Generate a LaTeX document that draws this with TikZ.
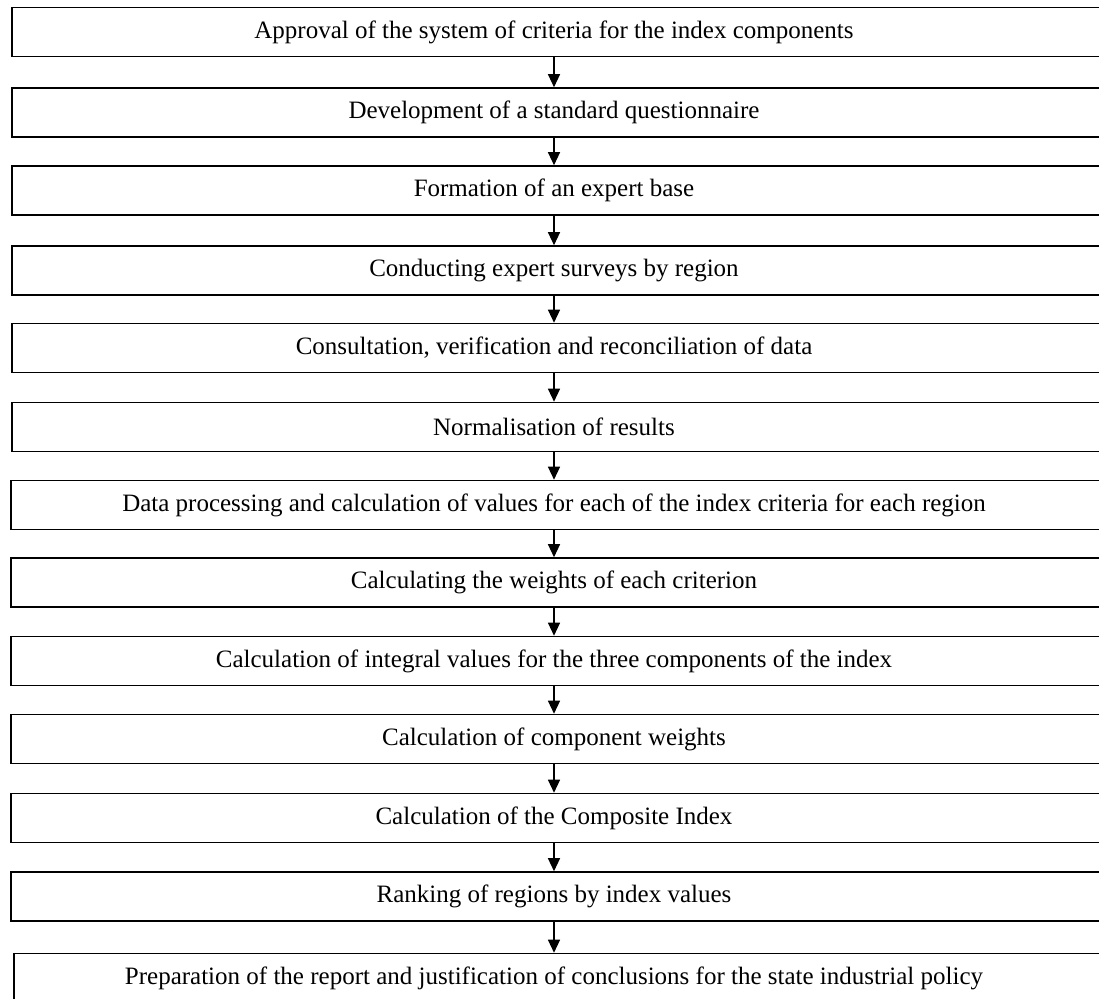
\documentclass[tikz,border=0pt]{standalone}
\usepackage{fontspec}
\setmainfont{Liberation Serif}
\usetikzlibrary{arrows.meta}
\begin{document}
\begin{tikzpicture}[x=1pt,y=-1pt,
  box/.style={draw=black,line width=1.6pt,minimum width=1110pt,minimum height=49pt,inner sep=0pt,anchor=west},
  txt/.style={font=\fontsize{25}{28}\selectfont,inner sep=0pt},
  arr/.style={line width=1.3pt,-{Triangle[width=12pt,length=13pt]}}]
\useasboundingbox (0,0) rectangle (1099,998);
\fill[white] (0,0) rectangle (1099,998);
\foreach \n/\x/\y in {1/11/32,2/11/112.5,3/11/190.5,4/11/270.5,5/11/348,6/11/427,7/10/505,8/10/582.5,9/10/661,10/10/739,11/10/818,12/10/896.5,13/13/978}{
  \node[box] (b\n) at (\x,\y) {};
}
\node[txt] (t1) at (554,32) {Approval of the system of criteria for the index components};
\node[txt] (t2) at (554,112.5) {Development of a standard questionnaire};
\node[txt] (t3) at (554,190.5) {Formation of an expert base};
\node[txt] (t4) at (554,270.5) {Conducting expert surveys by region};
\node[txt] (t5) at (554,348) {Consultation, verification and reconciliation of data};
\node[txt] (t6) at (554,427) {Normalisation of results};
\node[txt] (t7) at (554,505) {Data processing and calculation of values for each of the index criteria for each region};
\node[txt] (t8) at (554,582.5) {Calculating the weights of each criterion};
\node[txt] (t9) at (554,661) {Calculation of integral values for the three components of the index};
\node[txt] (t10) at (554,739) {Calculation of component weights};
\node[txt] (t11) at (554,818) {Calculation of the Composite Index};
\node[txt] (t12) at (554,896.5) {Ranking of regions by index values};
\node[txt] (t13) at (554,978) {Preparation of the report and justification of conclusions for the state industrial policy};
\foreach \a/\b in {1/2,2/3,3/4,4/5,5/6,6/7,7/8,8/9,9/10,10/11,11/12,12/13}{
  \draw[arr] (t\a |- b\a.south) -- (t\a |- b\b.north);
}
\end{tikzpicture}
\end{document}
